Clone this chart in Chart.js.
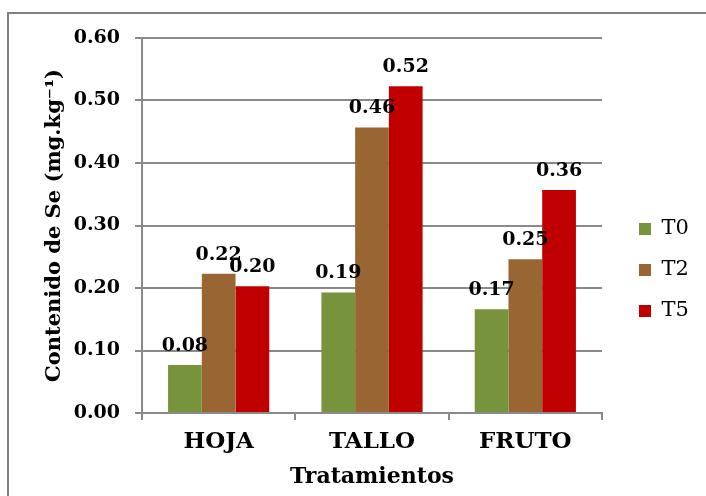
<!DOCTYPE html>
<html>
<head>
<meta charset="utf-8">
<script src="https://cdn.jsdelivr.net/npm/chart.js@4.4.0/dist/chart.umd.min.js"></script>
<style>
  html, body { margin: 0; padding: 0; background: #fff; overflow: hidden; }
  #frame { position: absolute; left: 7px; top: 12px; width: 720px; height: 500px; border: 2px solid #808080; box-sizing: border-box; }
  #wrap { position: absolute; left: 0; top: 0; width: 706px; height: 496px; }
</style>
</head>
<body>
<div id="frame"></div>
<div id="wrap"><canvas id="seChart" width="706" height="496"></canvas></div>
<script>
// Data
const categories = ['HOJA', 'TALLO', 'FRUTO'];
const seriesNames = ['T0', 'T2', 'T5'];
const t0Values = [0.077, 0.193, 0.166];
const t2Values = [0.223, 0.457, 0.246];
const t5Values = [0.203, 0.523, 0.357];
const yTicks = [0, 0.1, 0.2, 0.3, 0.4, 0.5, 0.6];

const SERIF = '"DejaVu Serif", "Liberation Serif", serif';
const GRID = '#8a8a8a';

// Value labels above each bar
const barLabels = {
    id: 'barLabels',
    afterDatasetsDraw(chart) {
        const ctx = chart.ctx;
        ctx.save();
        ctx.font = 'bold 19px ' + SERIF;
        ctx.fillStyle = '#000';
        ctx.textAlign = 'center';
        ctx.textBaseline = 'alphabetic';
        chart.data.datasets.forEach((ds, i) => {
            chart.getDatasetMeta(i).data.forEach((bar, j) => {
                ctx.fillText(ds.data[j].toFixed(2), bar.x, bar.y - 14);
            });
        });
        ctx.restore();
    }
};

// Fixed legend column on the right
const legendBox = {
    id: 'legendBox',
    afterInit(chart) {
        const lg = chart.legend;
        const fit = lg.fit.bind(lg);
        lg.fit = () => { fit(); lg.width = 104; };
    },
    afterLayout(chart) {
        const lg = chart.legend;
        lg.left += 17;
        lg.right += 17;
        lg.top += 5;
        lg.bottom += 5;
    }
};

new Chart(document.getElementById('seChart'), {
    type: 'bar',
    data: {
        labels: categories,
        datasets: [
            { label: seriesNames[0], data: t0Values, backgroundColor: '#77933C' },
            { label: seriesNames[1], data: t2Values, backgroundColor: '#996633' },
            { label: seriesNames[2], data: t5Values, backgroundColor: '#C00000' }
        ]
    },
    options: {
        responsive: false,
        animation: false,
        events: [],
        layout: { padding: { left: 20, top: 38, right: 0, bottom: 4 } },
        datasets: { bar: { categoryPercentage: 0.66, barPercentage: 1 } },
        plugins: {
            legend: {
                position: 'right',
                labels: {
                    boxWidth: 12,
                    boxHeight: 12,
                    padding: 20,
                    color: '#000',
                    font: { family: SERIF, size: 21 }
                }
            },
            tooltip: { enabled: false }
        },
        scales: {
            x: {
                afterFit: s => { s.height = 79; },
                grid: { offset: true, drawOnChartArea: false, drawTicks: true, tickLength: 7, color: GRID, lineWidth: 2 },
                border: { color: GRID, width: 2 },
                ticks: { color: '#000', padding: 8, font: { family: SERIF, size: 23, weight: 'bold' } },
                title: { display: true, text: 'Tratamientos', color: '#000', padding: { top: 0, bottom: 2 }, font: { family: SERIF, size: 22, weight: 'bold' } }
            },
            y: {
                min: 0,
                max: 0.6,
                afterFit: s => { s.width = 122; },
                afterBuildTicks: s => { s.ticks = yTicks.map(v => ({ value: v })); },
                grid: { color: GRID, lineWidth: 2, tickLength: 7 },
                border: { color: GRID, width: 2 },
                ticks: { color: '#000', padding: 15, font: { family: SERIF, size: 19, weight: 'bold' }, callback: v => v.toFixed(2) },
                title: { display: true, text: 'Contenido de Se (mg.kg⁻¹)', color: '#000', padding: { top: 22, bottom: 0 }, font: { family: SERIF, size: 21, weight: 'bold' } }
            }
        }
    },
    plugins: [barLabels, legendBox]
});
</script>
</body>
</html>
